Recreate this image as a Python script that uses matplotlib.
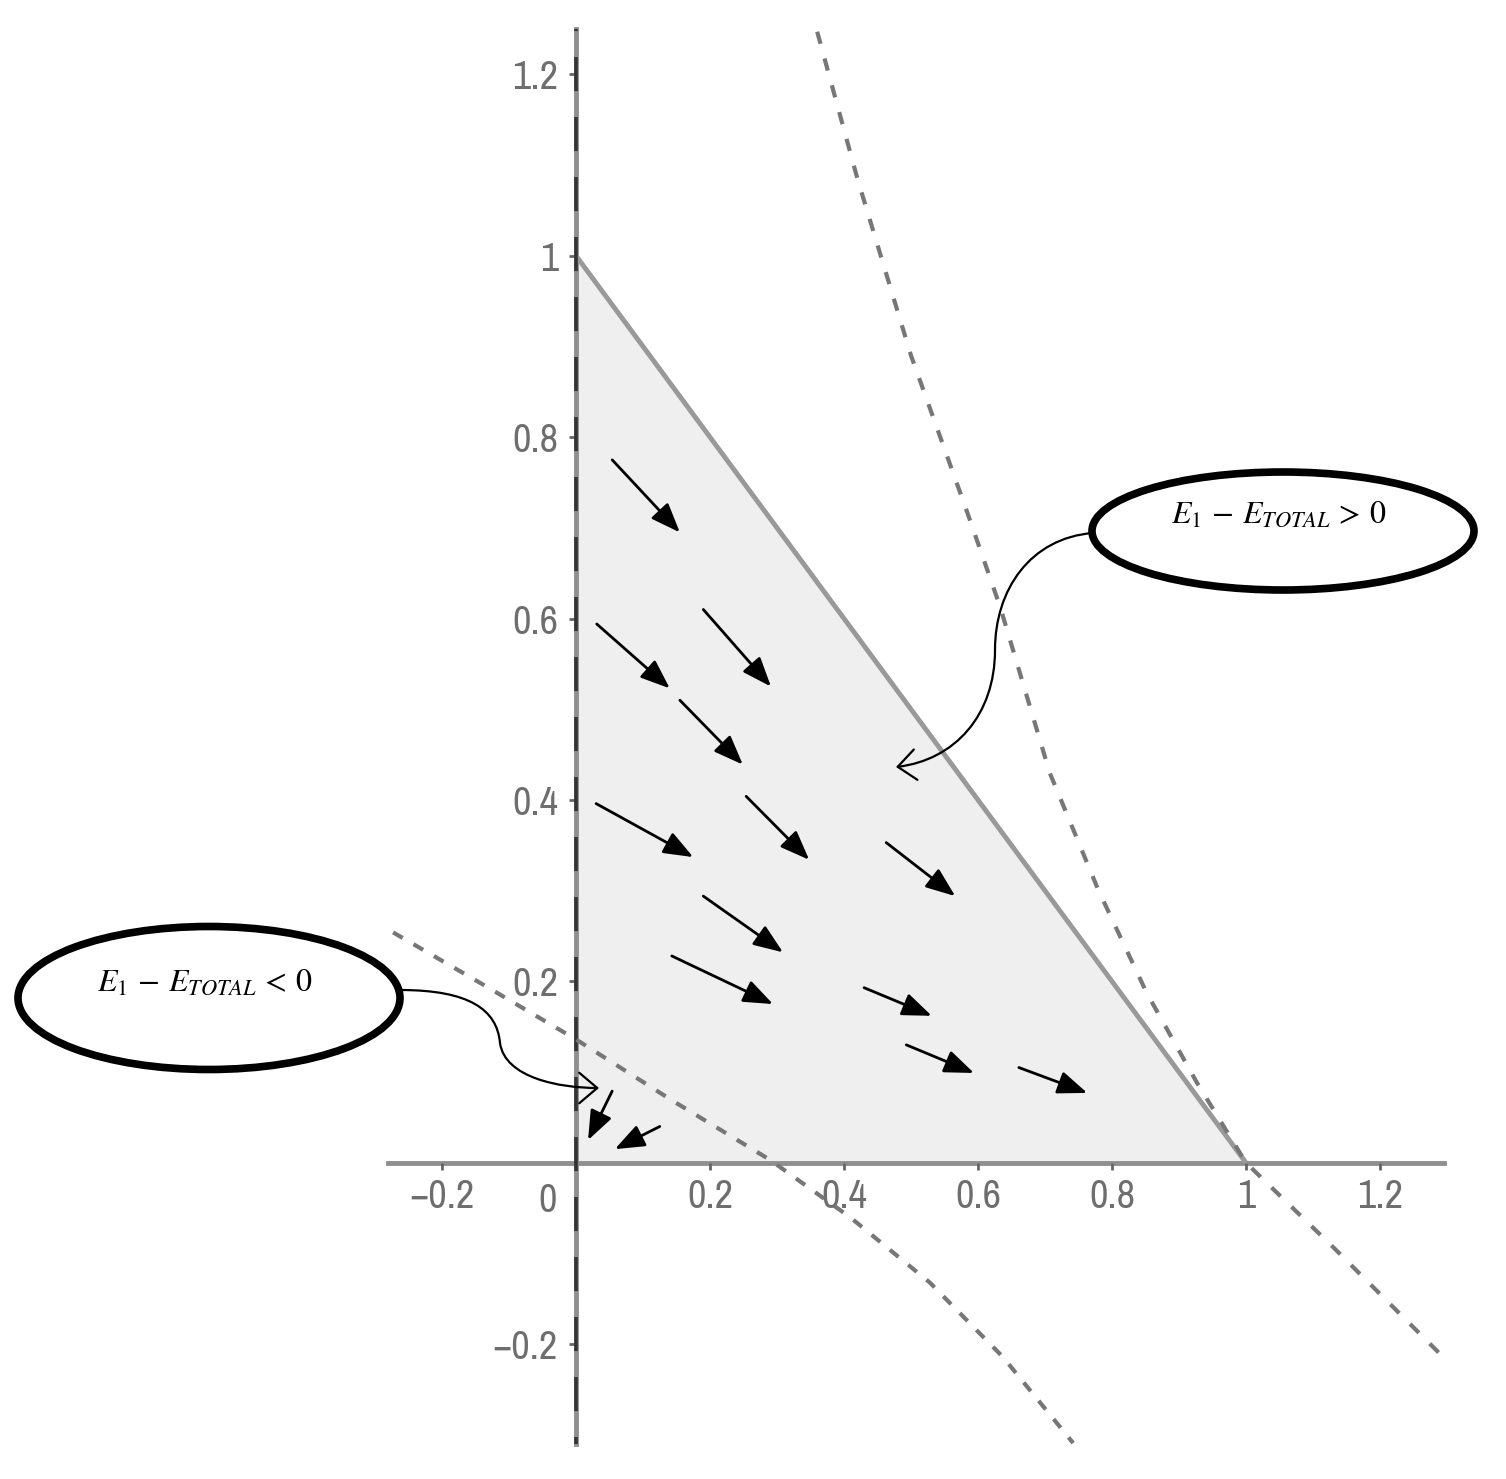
import matplotlib
matplotlib.use("Agg")
import matplotlib.pyplot as plt
from matplotlib import font_manager
from matplotlib.patches import Ellipse, FancyArrowPatch
from matplotlib.path import Path

# tick labels
xticks = [-0.2, 0.2, 0.4, 0.6, 0.8, 1, 1.2]
xtick_labels = ["\u22120.2", "0.2", "0.4", "0.6", "0.8", "1", "1.2"]
yticks = [-0.2, 0.2, 0.4, 0.6, 0.8, 1, 1.2]
ytick_labels = ["\u22120.2", "0.2", "0.4", "0.6", "0.8", "1", "1.2"]

# feasible region (triangle)
region_x = [0, 1, 0]
region_y = [0, 0, 1]

# dashed curves
curve_right_x = [0.360, 0.420, 0.500, 0.584, 0.633, 0.707, 0.780, 0.852, 0.927, 1.000, 1.130, 1.294]
curve_right_y = [1.247, 1.085, 0.890, 0.717, 0.613, 0.430, 0.300, 0.187, 0.088, 0.000, -0.093, -0.214]
curve_left_x = [-0.273, -0.140, 0.000, 0.145, 0.290, 0.409, 0.528, 0.637, 0.742]
curve_left_y = [0.254, 0.197, 0.136, 0.068, 0.003, -0.060, -0.132, -0.214, -0.309]

# direction arrows: tail -> head
arrow_x0 = [0.054, 0.031, 0.190, 0.155, 0.030, 0.254, 0.463, 0.190, 0.143, 0.430, 0.493, 0.661, 0.054, 0.125]
arrow_y0 = [0.775, 0.594, 0.610, 0.510, 0.396, 0.404, 0.353, 0.294, 0.228, 0.193, 0.130, 0.105, 0.079, 0.040]
arrow_x1 = [0.155, 0.140, 0.291, 0.249, 0.175, 0.348, 0.566, 0.309, 0.294, 0.531, 0.594, 0.763, 0.018, 0.058]
arrow_y1 = [0.695, 0.523, 0.525, 0.439, 0.337, 0.334, 0.294, 0.232, 0.175, 0.162, 0.099, 0.077, 0.025, 0.015]

label_pos = r"$E_1\,-\,E_{TOTAL}\,>\,0$"
label_neg = r"$E_1\,-\,E_{TOTAL}\,<\,0$"

# look for a narrow/condensed sans for the tick numbers
tick_font = "DejaVu Sans"
tick_stretch = "normal"
for f in font_manager.fontManager.ttflist:
    if "Narrow" in f.name:
        tick_font = f.name
        break
else:
    for f in font_manager.fontManager.ttflist:
        if f.name == "DejaVu Sans" and f.stretch == "condensed":
            tick_stretch = "condensed"
            break

plt.rcParams["mathtext.fontset"] = "stix"
plt.rcParams["lines.scale_dashes"] = False

fig = plt.figure(figsize=(15.06, 14.79), dpi=100)
ax = fig.add_axes([0.2579, 0.0237, 0.7007, 0.9567])
ax.set_xlim(-0.28, 1.295)
ax.set_ylim(-0.31, 1.25)

axis_col = "#8f8f8f"
for s in ["top", "right"]:
    ax.spines[s].set_visible(False)
for s in ["left", "bottom"]:
    ax.spines[s].set_position(("data", 0))
    ax.spines[s].set_color(axis_col)
    ax.spines[s].set_linewidth(3.5)
    ax.spines[s].set_zorder(1)

ax.set_xticks(xticks)
ax.set_xticklabels(xtick_labels)
ax.set_yticks(yticks)
ax.set_yticklabels(ytick_labels)
ax.tick_params(axis="x", direction="out", length=5, width=2, color="#666666", pad=6,
               labelsize=29, labelcolor="#6e6e6e")
ax.tick_params(axis="y", direction="out", length=5, width=2, color="#666666", pad=8,
               labelsize=29, labelcolor="#6e6e6e")
for lab in ax.get_xticklabels() + ax.get_yticklabels():
    lab.set_family(tick_font)
    lab.set_stretch(tick_stretch)
ax.text(-0.042, -0.042, "0", ha="center", va="center", fontsize=29,
        color="#6e6e6e", family=tick_font, stretch=tick_stretch)

# shaded region + boundary
ax.fill(region_x, region_y, color="#efefef", zorder=0)
ax.plot([0, 1], [1, 0], color="#999999", lw=3.5, zorder=2, solid_capstyle="butt")

# x = 0 dashed line over the axis
ax.plot([0, 0], [1.25, -0.31], color="#333333", lw=2.6, linestyle=(23, (24.5, 18.7)),
        zorder=3)

# dashed curves
ax.plot(curve_right_x, curve_right_y, color="#777777", lw=3, linestyle=(0, (9, 11)), zorder=3)
ax.plot(curve_left_x, curve_left_y, color="#777777", lw=3, linestyle=(0, (8, 9)), zorder=3)

# arrows
for i in range(len(arrow_x0)):
    ax.annotate("", xy=(arrow_x1[i], arrow_y1[i]), xytext=(arrow_x0[i], arrow_y0[i]),
                arrowprops=dict(arrowstyle="-|>,head_length=0.9,head_width=0.35",
                                color="black", lw=2, shrinkA=0, shrinkB=0,
                                mutation_scale=20),
                zorder=4)

# overlay in pixel coordinates for callouts
ov = fig.add_axes([0, 0, 1, 1])
ov.set_xlim(0, 1506)
ov.set_ylim(1479, 0)
ov.axis("off")
ov.patch.set_alpha(0)

ov.add_patch(Ellipse((1283, 531), 382, 118, facecolor="none", edgecolor="black", lw=5.5))
ov.add_patch(Ellipse((209, 998), 382, 143, facecolor="none", edgecolor="black", lw=5.5))
ov.text(1279, 514, label_pos, ha="center", va="center", fontsize=23)
ov.text(205, 982, label_neg, ha="center", va="center", fontsize=23)

p_up = Path([(1093, 533), (1030, 538), (995, 590), (995, 650),
             (995, 715), (955, 760), (896, 767)],
            [Path.MOVETO, Path.CURVE4, Path.CURVE4, Path.CURVE4,
             Path.CURVE4, Path.CURVE4, Path.CURVE4])
ov.add_patch(FancyArrowPatch(path=p_up, arrowstyle="->,head_length=0.65,head_width=0.55",
                             mutation_scale=20, color="black", lw=1.6))
p_low = Path([(400, 990), (470, 990), (497, 1010), (500, 1043),
              (505, 1078), (560, 1088), (599, 1088)],
             [Path.MOVETO, Path.CURVE4, Path.CURVE4, Path.CURVE4,
              Path.CURVE4, Path.CURVE4, Path.CURVE4])
ov.add_patch(FancyArrowPatch(path=p_low, arrowstyle="->,head_length=0.65,head_width=0.55",
                             mutation_scale=20, color="black", lw=1.6))

fig.savefig("out.png", dpi=100)
